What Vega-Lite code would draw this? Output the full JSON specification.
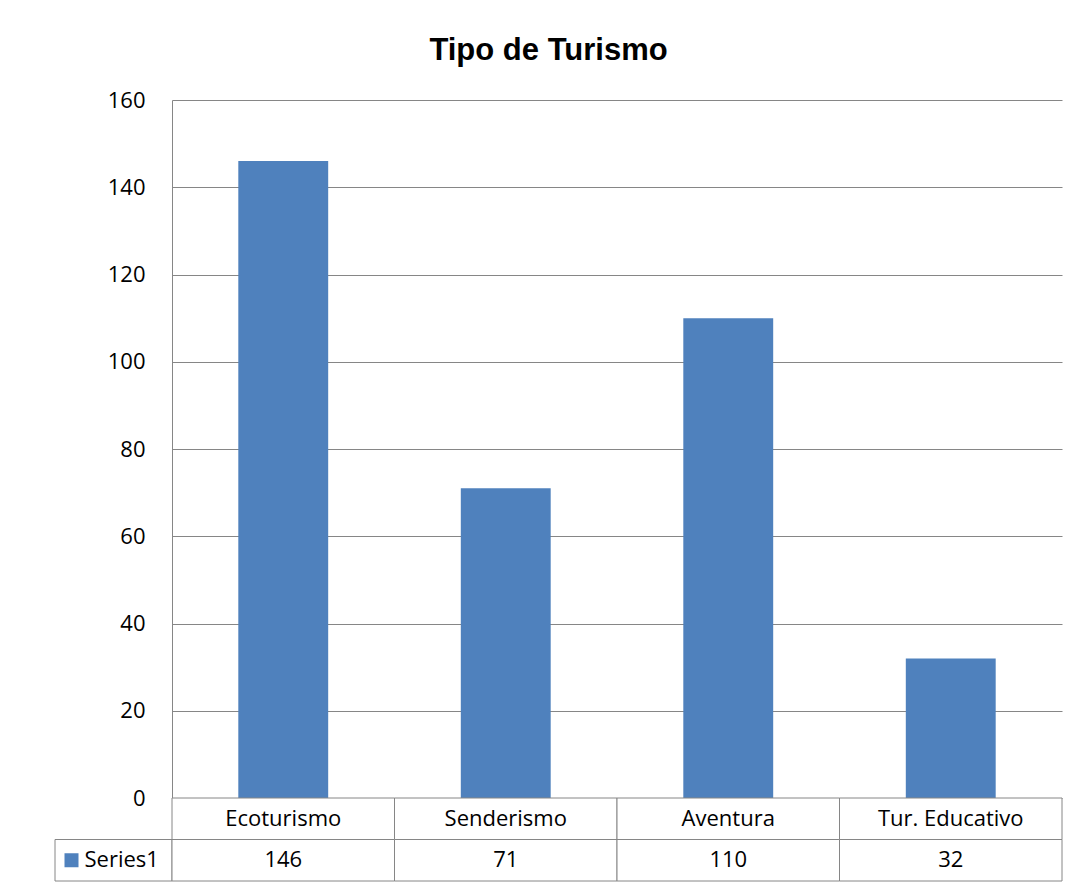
{
  "$schema": "https://vega.github.io/schema/vega-lite/v6.json",
  "background": "white",
  "padding": {"left": 54, "top": 35, "right": 10, "bottom": 4},
  "title": {
    "text": "Tipo de Turismo",
    "font": "Liberation Sans",
    "fontSize": 31,
    "fontWeight": "bold",
    "color": "#000000",
    "anchor": "middle",
    "dx": -10,
    "offset": 22
  },
  "datasets": {
    "turismo": [
      {"tipo": "Ecoturismo", "valor": 146},
      {"tipo": "Senderismo", "valor": 71},
      {"tipo": "Aventura", "valor": 110},
      {"tipo": "Tur. Educativo", "valor": 32}
    ],
    "serie": [{"serie": "Series1"}]
  },
  "columns": 2,
  "spacing": 0,
  "bounds": "flush",
  "align": "each",
  "concat": [
    {
      "width": 117,
      "height": 698,
      "data": {"values": []},
      "mark": {"type": "text"},
      "encoding": {}
    },
    {
      "width": 890,
      "height": 698,
      "data": {"name": "turismo"},
      "mark": {"type": "bar", "color": "#4F81BD", "width": {"band": 0.404}},
      "encoding": {
        "x": {
          "field": "tipo",
          "type": "nominal",
          "sort": null,
          "scale": {"paddingInner": 0, "paddingOuter": 0},
          "axis": null
        },
        "y": {
          "field": "valor",
          "type": "quantitative",
          "scale": {"domain": [0, 160], "nice": false},
          "axis": {
            "title": null,
            "values": [0, 20, 40, 60, 80, 100, 120, 140, 160],
            "grid": true,
            "gridColor": "#868686",
            "gridOpacity": 1,
            "domain": true,
            "domainColor": "#868686",
            "ticks": false,
            "labelFont": "Open Sans",
            "labelFontSize": 22,
            "labelColor": "#000000",
            "labelPadding": 27
          }
        }
      }
    },
    {
      "width": 117,
      "height": 83,
      "data": {"name": "serie"},
      "encoding": {
        "y": {
          "datum": "val",
          "type": "nominal",
          "scale": {"domain": ["cat", "val"], "paddingInner": 0, "paddingOuter": 0},
          "axis": null
        }
      },
      "layer": [
        {"mark": {"type": "rect", "fill": "white", "stroke": "#868686", "strokeWidth": 1}},
        {"mark": {"type": "point", "shape": "square", "filled": true, "color": "#4F81BD", "size": 196, "opacity": 1, "xOffset": -42}},
        {
          "mark": {"type": "text", "align": "left", "baseline": "middle", "dx": -29, "font": "Open Sans", "fontSize": 22, "color": "#000000"},
          "encoding": {"text": {"field": "serie"}}
        }
      ]
    },
    {
      "width": 890,
      "height": 83,
      "data": {"name": "turismo"},
      "encoding": {
        "x": {
          "field": "tipo",
          "type": "nominal",
          "sort": null,
          "scale": {"paddingInner": 0, "paddingOuter": 0},
          "axis": null
        }
      },
      "layer": [
        {
          "mark": {"type": "rect", "fill": "white", "stroke": "#868686", "strokeWidth": 1},
          "encoding": {
            "y": {
              "datum": "cat",
              "type": "nominal",
              "scale": {"domain": ["cat", "val"], "paddingInner": 0, "paddingOuter": 0},
              "axis": null
            }
          }
        },
        {
          "mark": {"type": "rect", "fill": "white", "stroke": "#868686", "strokeWidth": 1},
          "encoding": {"y": {"datum": "val", "type": "nominal"}}
        },
        {
          "mark": {"type": "text", "baseline": "middle", "font": "Open Sans", "fontSize": 22, "color": "#000000"},
          "encoding": {"y": {"datum": "cat", "type": "nominal"}, "text": {"field": "tipo"}}
        },
        {
          "mark": {"type": "text", "baseline": "middle", "font": "Open Sans", "fontSize": 22, "color": "#000000"},
          "encoding": {"y": {"datum": "val", "type": "nominal"}, "text": {"field": "valor"}}
        }
      ]
    }
  ],
  "config": {
    "view": {"stroke": null}
  }
}
